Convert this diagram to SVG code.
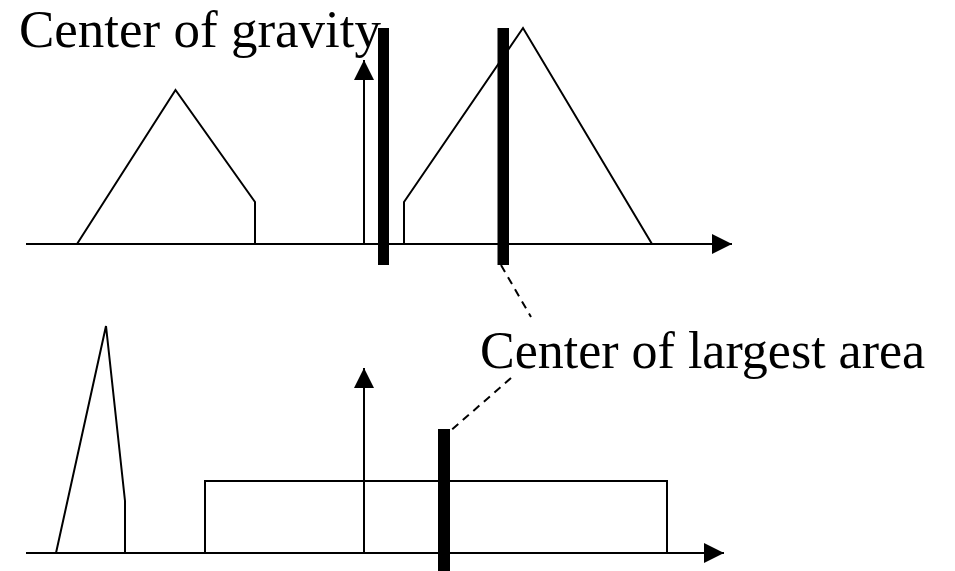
<svg xmlns="http://www.w3.org/2000/svg" width="955" height="571" viewBox="0 0 955 571">
<style>
.ln{fill:none;stroke:#000;stroke-width:2;stroke-linejoin:miter}
.bar{fill:#000}
.ds{fill:none;stroke:#000;stroke-width:2;stroke-dasharray:8,6}
.lbl{font-family:"Liberation Serif","Times New Roman",serif;font-size:52px;fill:#000}
</style>
<defs>
<marker id="ah" markerWidth="20" markerHeight="20" refX="20" refY="10" orient="auto" markerUnits="userSpaceOnUse">
<path d="M0,0 L20,10 L0,20 Z" fill="#000"/>
</marker>
</defs>
<rect width="955" height="571" fill="#fff"/>
<g id="top-chart">
<path class="ln" d="M77,244 L175.5,90 L255,202 L255,244"/>
<path class="ln" d="M404,244 L404,202 L523,28 L652,244"/>
</g>
<g id="bottom-chart">
<path class="ln" d="M56,553 L106,326 L125,501 L125,553"/>
<path class="ln" d="M205,553 L205,481 L667,481 L667,553"/>
</g>
<g id="connectors">
<line class="ln" x1="26" y1="244" x2="732" y2="244" marker-end="url(#ah)"/>
<line class="ln" x1="364" y1="244" x2="364" y2="60" marker-end="url(#ah)"/>
<line class="ln" x1="26" y1="553" x2="724" y2="553" marker-end="url(#ah)"/>
<line class="ln" x1="364" y1="553" x2="364" y2="368" marker-end="url(#ah)"/>
<line class="ds" x1="501" y1="265" x2="531" y2="317"/>
<line class="ds" x1="511" y1="378" x2="448" y2="433"/>
</g>
<g id="bar-gravity"><rect class="bar" x="378" y="28" width="11" height="237"/></g>
<g id="bar-largest-top"><rect class="bar" x="497.5" y="28" width="11.5" height="237"/></g>
<g id="bar-largest-bottom"><rect class="bar" x="438" y="429" width="12" height="142"/></g>
<g id="label-gravity"><text class="lbl" x="19" y="47" style="font-size:53px">Center of gravity</text></g>
<g id="label-largest"><text class="lbl" x="480" y="368">Center of largest area</text></g>
</svg>
